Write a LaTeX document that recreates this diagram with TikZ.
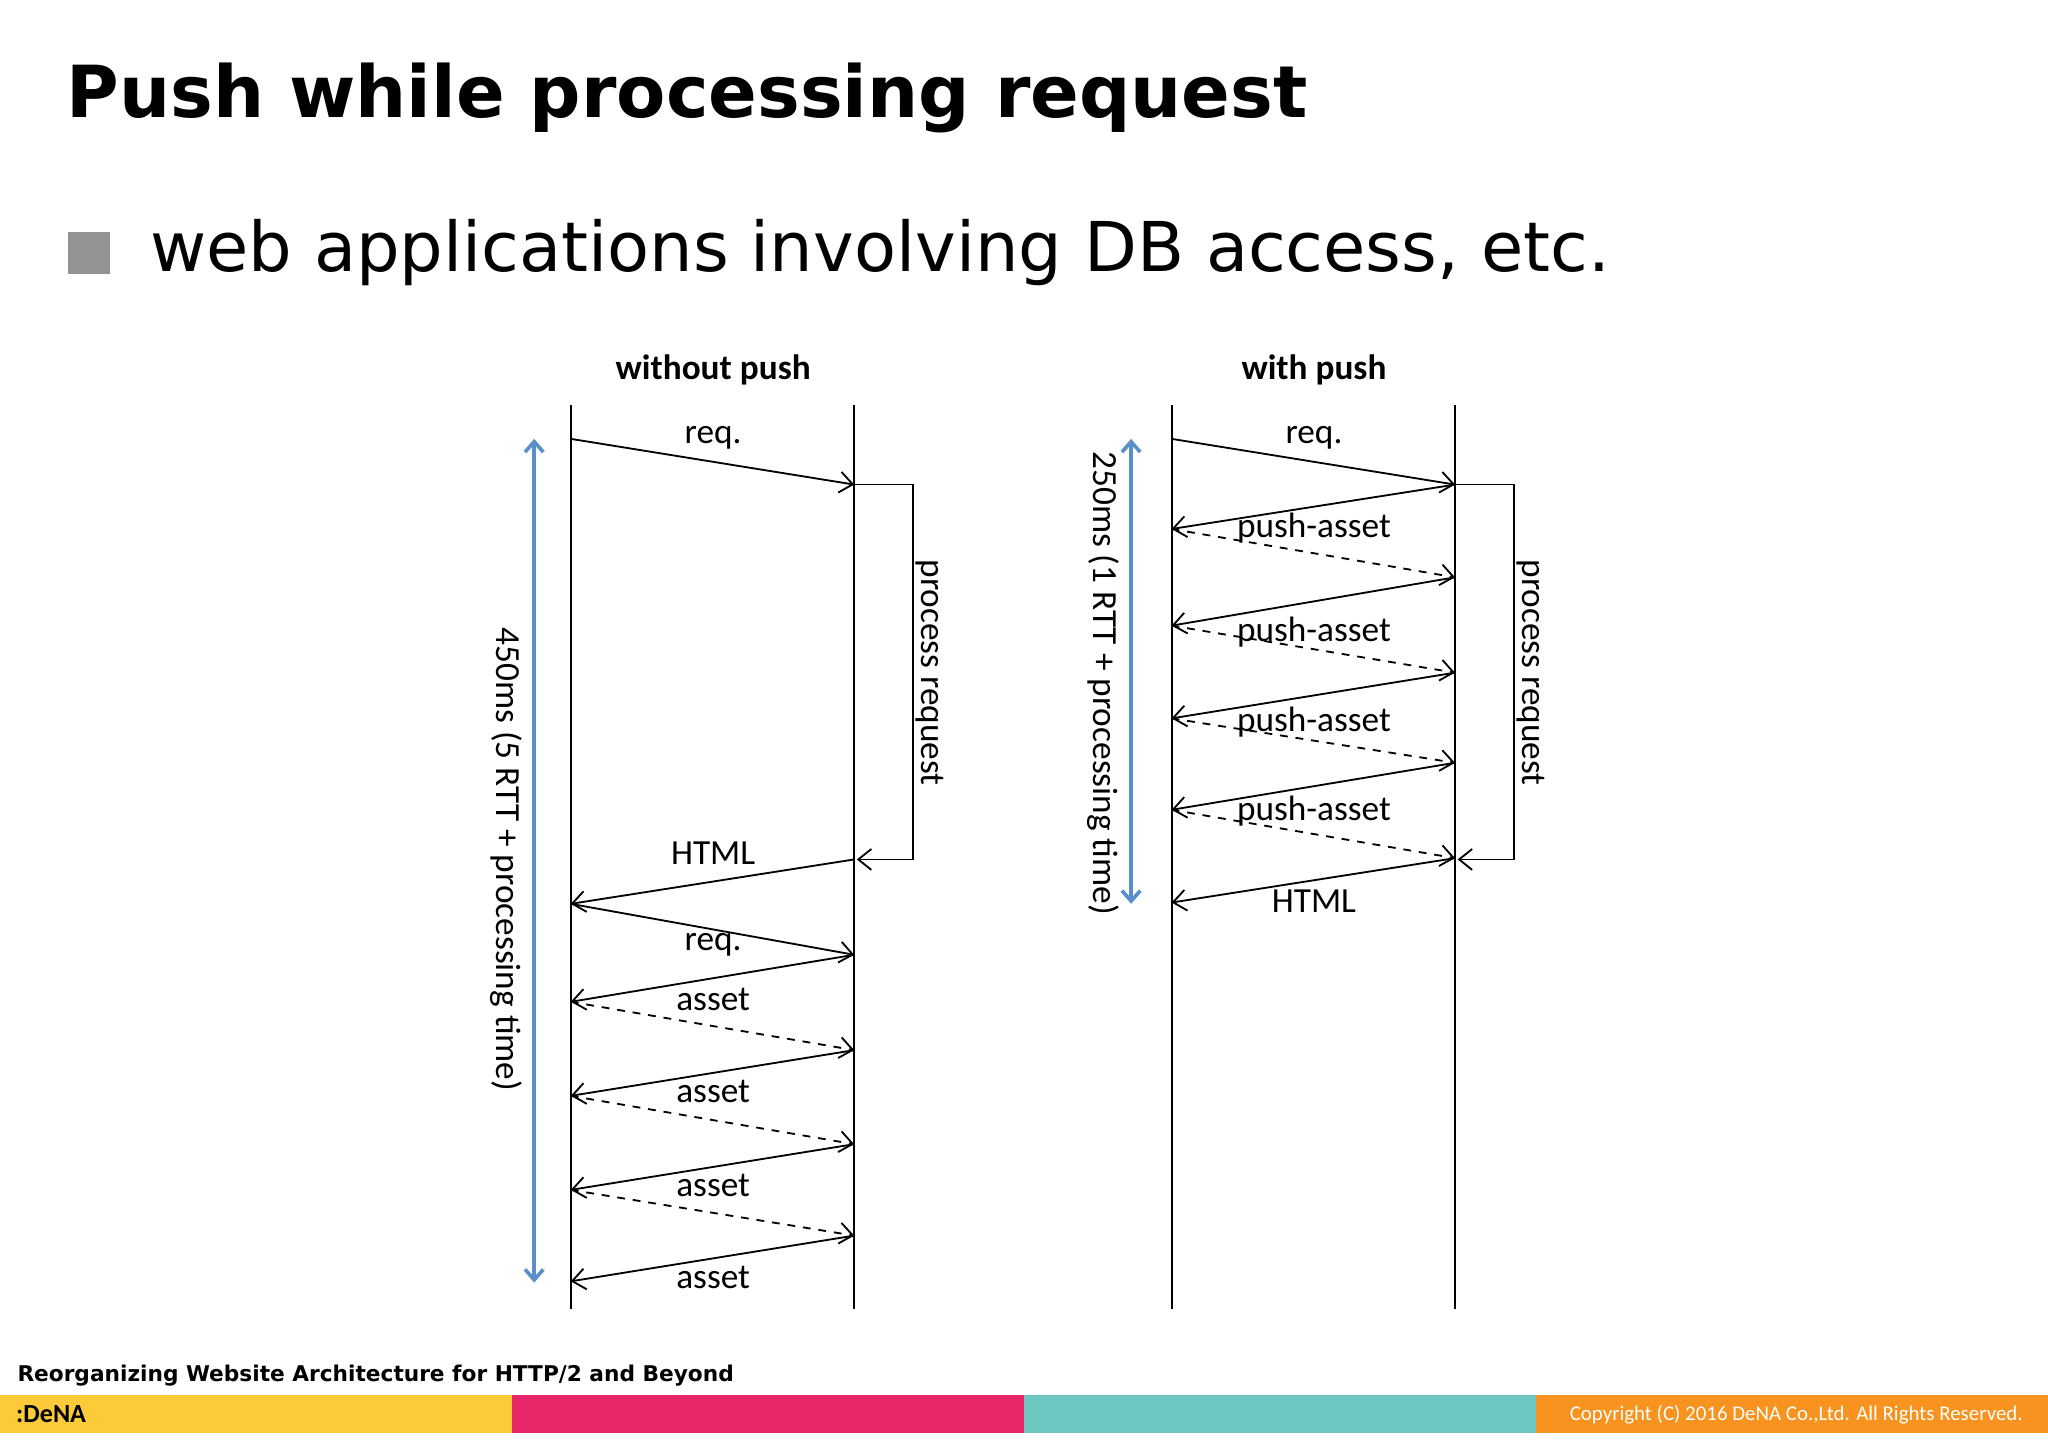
\documentclass[tikz,border=0pt]{standalone}
\usepackage{fontspec}
\setmainfont{DejaVu Sans}
\newfontfamily\calfont{Carlito}
\usetikzlibrary{arrows.meta}
\definecolor{bl}{HTML}{5B8FC9}
\definecolor{cy}{HTML}{FDCB3A}
\definecolor{cp}{HTML}{E8266A}
\definecolor{ct}{HTML}{6CC7C0}
\definecolor{co}{HTML}{F7931E}
\begin{document}
\begin{tikzpicture}[x=0.5pt,y=-0.5pt,
  msg/.style={-{Straight Barb[length=5pt,width=8pt]},line width=0.7pt},
  dmsg/.style={msg,dashed},
  lbl/.style={font=\calfont\fontsize{13.5}{15}\selectfont,inner sep=1pt},
  life/.style={line width=0.7pt},
  dur/.style={{Straight Barb[length=4pt,width=7pt]}-{Straight Barb[length=4pt,width=7pt]},bl,line width=1.4pt}]
\useasboundingbox (0,0) rectangle (1568,1108);
\node[anchor=west,font=\bfseries\fontsize{27.5}{30}\selectfont] (title) at (44,75) {Push while processing request};
\fill[gray!85] (52,178) rectangle (84,210);
\node[anchor=west,font=\fontsize{26.3}{30}\selectfont] (bullet) at (108,193) {web applications involving DB access, etc.};
% headings
\node[lbl,font=\calfont\bfseries\fontsize{13.5}{15}\selectfont] (h1) at (546,283) {without push};
\node[lbl,font=\calfont\bfseries\fontsize{13.5}{15}\selectfont] (h2) at (1006,283) {with push};
% lifelines
\foreach \n/\x in {c1/437,s1/654,c2/897,s2/1114}{
  \coordinate (\n t) at (\x,310); \coordinate (\n b) at (\x,1002);
  \draw[life] (\n t) -- (\n b);}
% left
\coordinate (a0) at (437,336); \coordinate (a1) at (654,371);
\coordinate (a2) at (654,658); \coordinate (a3) at (437,692);
\coordinate (a4) at (654,731); \coordinate (a5) at (437,767);
\coordinate (a6) at (654,804); \coordinate (a7) at (437,839);
\coordinate (a8) at (654,876); \coordinate (a9) at (437,911);
\coordinate (a10) at (654,946); \coordinate (a11) at (437,981);
\draw[msg] (a0) -- (a1);
\draw[msg] (a2) -- (a3);
\draw[msg] (a3) -- (a4);
\draw[msg] (a4) -- (a5);
\draw[dmsg] (a5) -- (a6);
\draw[msg] (a6) -- (a7);
\draw[dmsg] (a7) -- (a8);
\draw[msg] (a8) -- (a9);
\draw[dmsg] (a9) -- (a10);
\draw[msg] (a10) -- (a11);
\node[lbl] (l1) at (546,335) {req.};
\node[lbl] (l2) at (546,653) {HTML};
\node[lbl] (l3) at (546,723) {req.};
\node[lbl] (l4) at (546,765) {asset};
\node[lbl] (l5) at (546,836) {asset};
\node[lbl] (l6) at (546,908) {asset};
\node[lbl] (l7) at (546,978) {asset};
\coordinate (p1) at (699,371); \coordinate (p2) at (699,658); \coordinate (p3) at (656,658);
\draw[msg] (a1) -- (p1) -- (p2) -- (p3);
\node[lbl,rotate=-90] (pr1) at (712,515) {process request};
\coordinate (d1) at (409,336); \coordinate (d2) at (409,982);
\draw[dur] (d1) -- (d2);
\node[lbl,rotate=-90] (dl1) at (388,658) {450ms (5 RTT + processing time)};
% right
\coordinate (b0) at (897,336); \coordinate (b1) at (1114,371);
\coordinate (b2) at (897,405); \coordinate (b3) at (1114,442);
\coordinate (b4) at (897,479); \coordinate (b5) at (1114,515);
\coordinate (b6) at (897,550); \coordinate (b7) at (1114,584);
\coordinate (b8) at (897,620); \coordinate (b9) at (1114,657);
\coordinate (b10) at (897,691);
\draw[msg] (b0) -- (b1);
\draw[msg] (b1) -- (b2);
\draw[dmsg] (b2) -- (b3);
\draw[msg] (b3) -- (b4);
\draw[dmsg] (b4) -- (b5);
\draw[msg] (b5) -- (b6);
\draw[dmsg] (b6) -- (b7);
\draw[msg] (b7) -- (b8);
\draw[dmsg] (b8) -- (b9);
\draw[msg] (b9) -- (b10);
\node[lbl] (r1) at (1006,335) {req.};
\node[lbl] (r2) at (1006,404) {push-asset};
\node[lbl] (r3) at (1006,484) {push-asset};
\node[lbl] (r4) at (1006,553) {push-asset};
\node[lbl] (r5) at (1006,621) {push-asset};
\node[lbl] (r6) at (1006,690) {HTML};
\coordinate (q1) at (1159,371); \coordinate (q2) at (1159,658); \coordinate (q3) at (1116,658);
\draw[msg] (b1) -- (q1) -- (q2) -- (q3);
\node[lbl,rotate=-90] (pr2) at (1172,515) {process request};
\coordinate (e1) at (866,336); \coordinate (e2) at (866,692);
\draw[dur] (e1) -- (e2);
\node[lbl,rotate=-90] (dl2) at (845,523) {250ms (1 RTT + processing time)};
% footer
\node[anchor=west,font=\bfseries\fontsize{8.3}{10}\selectfont,inner sep=0] (ft) at (13,1053) {Reorganizing Website Architecture for HTTP/2 and Beyond};
\fill[cy] (0,1068) rectangle (392,1097);
\fill[cp] (392,1068) rectangle (784,1097);
\fill[ct] (784,1068) rectangle (1176,1097);
\fill[co] (1176,1068) rectangle (1568,1097);
\node[anchor=west,font=\calfont\bfseries\fontsize{10}{10}\selectfont,inner sep=0] (logo) at (12,1083) {:DeNA};
\node[anchor=east,text=white,font=\calfont\fontsize{8}{10}\selectfont,inner sep=0] (cpr) at (1549,1083) {Copyright (C) 2016 DeNA Co.,Ltd. All Rights Reserved.};
\end{tikzpicture}
\end{document}
